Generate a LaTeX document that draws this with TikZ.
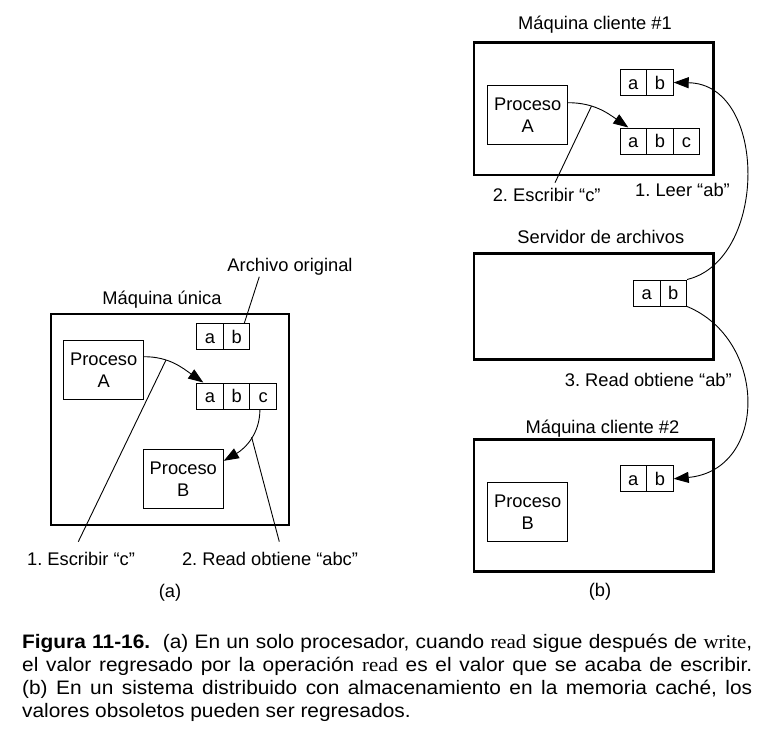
\documentclass[tikz,border=0pt]{standalone}
\usepackage{fontspec}
\setmainfont{Liberation Sans}
\newfontfamily\capfont[FakeStretch=1.07]{Liberation Sans}
\newfontfamily\capserif[FakeStretch=1.07]{Liberation Serif}
\usetikzlibrary{arrows.meta}
\begin{document}
\frenchspacing
\begin{tikzpicture}[x=1pt,y=1pt,
 every node/.style={font=\fontsize{18.3}{22}\selectfont, inner sep=0pt},
 cell/.style={draw, line width=1pt, minimum width=26.6pt, minimum height=26pt, text height=13.3pt, text depth=0pt},
 proc/.style={draw, line width=1pt, minimum width=80pt, minimum height=59pt, align=center},
 machine/.style={draw, line width=2.8pt},
 lbl/.style={anchor=base},
 conn/.style={line width=0.9pt},
 arr/.style={conn, -{Triangle[length=15pt,width=11pt]}},
 capline/.style={anchor=base west, font=\capfont\fontsize{19.5}{23}\selectfont},
]
\useasboundingbox (0,0) rectangle (759,-747);

% ---------- (a) ----------
\node[machine, minimum width=238pt, minimum height=211pt] (M) at (170,-419.5) {};
\node[lbl] (tM) at (162,-304) {Máquina única};
\node[lbl] (tAO) at (290,-271.7) {Archivo original};
\node[cell] (a1) at (210,-336.7) {a};
\node[cell] (b1) at (236.6,-336.7) {b};
\node[cell] (a2) at (210,-396) {a};
\node[cell] (b2) at (236.6,-396) {b};
\node[cell] (c2) at (263.2,-396) {c};
\node[proc] (PA) at (103.7,-369.7) {Proceso\\A};
\node[proc] (PB) at (183.3,-478.8) {Proceso\\B};
\node[lbl] (l1) at (81,-565) {1. Escribir “c”};
\node[lbl] (l2) at (270,-565) {2. Read obtiene “abc”};
\node[lbl] (ta) at (170,-597) {(a)};
\coordinate (e0) at (259.3,-276.7);
\coordinate (e1) at (78.3,-541.7);
\coordinate (e2) at (279.3,-541.7);
\draw[conn] (e0) -- ([xshift=7.7pt]b1.north);
\draw[arr] ([yshift=13pt]PA.east) to[out=0,in=145] coordinate[pos=0.33] (w1) ([xshift=-6.7pt]a2.north);
\draw[conn] (w1) -- (e1);
\draw[arr] ([xshift=-3.3pt]c2.south) to[out=-90,in=30] coordinate[pos=0.45] (w2) ([yshift=18pt]PB.east);
\draw[conn] (w2) -- (e2);

% ---------- (b) ----------
\node[machine, minimum width=239.3pt, minimum height=132.7pt] (C1) at (593.7,-108.7) {};
\node[machine, minimum width=239.3pt, minimum height=106pt] (S) at (593.7,-306.3) {};
\node[machine, minimum width=239.3pt, minimum height=132.4pt] (C2) at (593.7,-505.5) {};
\node[lbl] (tC1) at (595,-29) {Máquina cliente \#1};
\node[lbl] (tS) at (600.8,-243.3) {Servidor de archivos};
\node[lbl] (tC2) at (602.5,-433.3) {Máquina cliente \#2};
\node[lbl] (tb) at (600,-596.7) {(b)};
\node[cell] (aC1) at (633.3,-82.5) {a};
\node[cell] (bC1) at (659.9,-82.5) {b};
\node[cell] (a4) at (633.3,-141) {a};
\node[cell] (b4) at (659.9,-141) {b};
\node[cell] (c4) at (686.5,-141) {c};
\node[cell] (aS) at (646.7,-293) {a};
\node[cell] (bS) at (673.3,-293) {b};
\node[cell] (aC2) at (633.3,-478.8) {a};
\node[cell] (bC2) at (659.9,-478.8) {b};
\node[proc] (PAr) at (527.7,-115) {Proceso\\A};
\node[proc] (PBr) at (527.7,-511.7) {Proceso\\B};
\node[lbl] (l3) at (546.7,-201.7) {2. Escribir “c”};
\node[lbl] (l4) at (682.5,-196.7) {1. Leer “ab”};
\node[lbl] (l5) at (648.3,-386) {3. Read obtiene “ab”};
\coordinate (e3) at (555,-182.7);
\draw[arr] ([yshift=12.3pt]PAr.east) to[out=0,in=145] coordinate[pos=0.35] (w3) ([xshift=-5pt]a4.north);
\draw[conn] (w3) -- (e3);
\draw[arr] (bS.north east) .. controls (768,-260) and (768,-84) .. (bC1.east);
\draw[arr] (bS.south east) .. controls (768,-340) and (768,-470) .. (bC2.east);

% ---------- caption ----------
\node[capline] (cap1) at (22,-648.5) {\hbox to 730pt{\textbf{Figura 11-16.}\ \ (a) En un solo procesador, cuando {\capserif read} sigue después de {\capserif write},}};
\node[capline] (cap2) at (22,-671.5) {\hbox to 730pt{el valor regresado por la operación {\capserif read} es el valor que se acaba de escribir.}};
\node[capline] (cap3) at (22,-694) {\hbox to 730pt{(b) En un sistema distribuido con almacenamiento en la memoria caché, los}};
\node[capline] (cap4) at (22,-717) {valores obsoletos pueden ser regresados.};
\end{tikzpicture}
\end{document}
